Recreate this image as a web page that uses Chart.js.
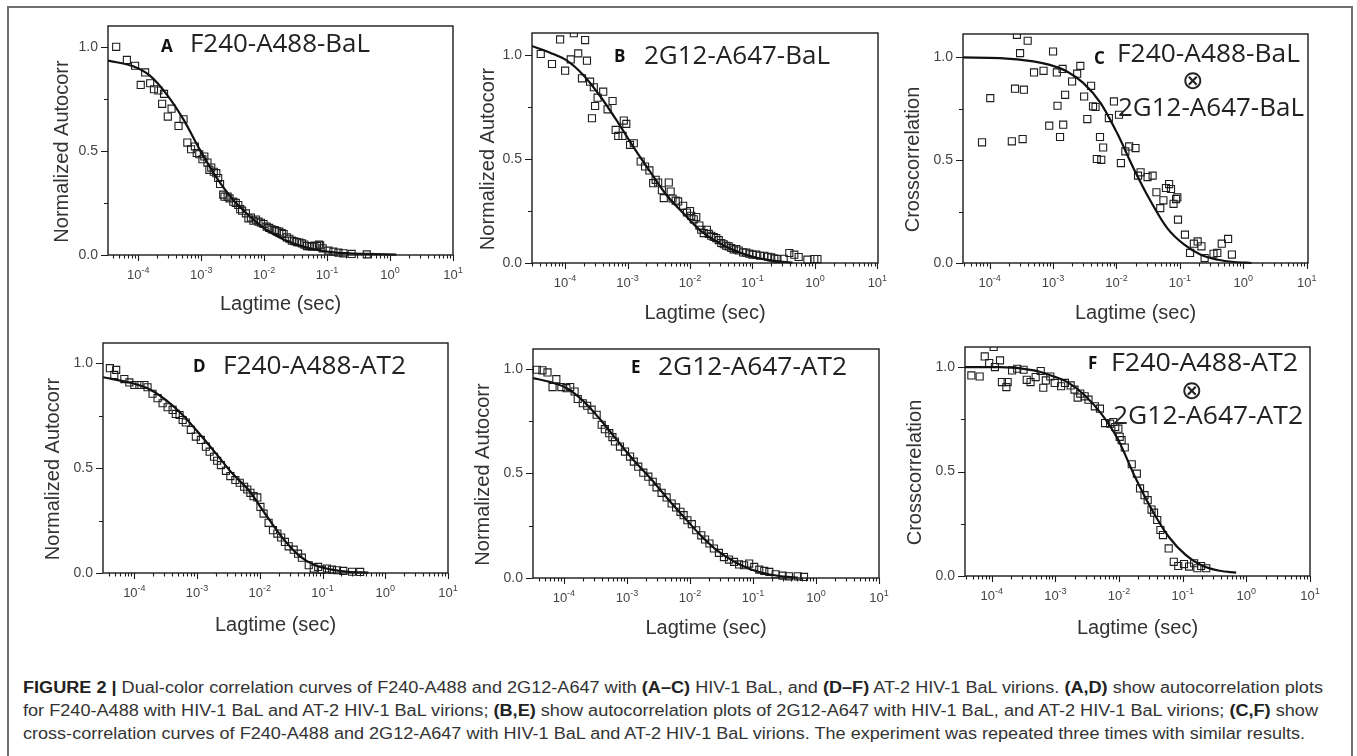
<!DOCTYPE html>
<html>
<head>
<meta charset="utf-8">
<title>Figure 2 - correlation curves</title>
<script src="https://cdn.jsdelivr.net/npm/chart.js@4.4.1/dist/chart.umd.min.js"></script>
<style>
    body { margin: 0; background: #fff; }
    #page { position: relative; width: 1357px; height: 756px; overflow: hidden; font-family: "Liberation Sans", Arial, sans-serif; }
    #border { position: absolute; left: 7px; top: 6px; width: 1346px; height: 770px; border: 2px solid #707070; box-sizing: border-box; }
    canvas { position: absolute; }
    .cap { position: absolute; left: 23px; white-space: nowrap; font-size: 16px; line-height: 20px; color: #333; transform-origin: 0 50%; }
    .cap b { color: #222; }
</style>
</head>
<body>
<div id="page">
    <div id="border"></div>
    <canvas id="cA" width="470" height="320" style="left:0px;top:10px"></canvas>
    <canvas id="cB" width="430" height="320" style="left:470px;top:10px"></canvas>
    <canvas id="cC" width="457" height="320" style="left:900px;top:10px"></canvas>
    <canvas id="cD" width="470" height="320" style="left:0px;top:330px"></canvas>
    <canvas id="cE" width="430" height="320" style="left:470px;top:330px"></canvas>
    <canvas id="cF" width="457" height="320" style="left:900px;top:330px"></canvas>

    <div class="cap" data-w="1300" style="top:678px"><b>FIGURE 2 |</b> Dual-color correlation curves of F240-A488 and 2G12-A647 with <b>(A–C)</b> HIV-1 BaL, and <b>(D–F)</b> AT-2 HIV-1 BaL virions. <b>(A,D)</b> show autocorrelation plots</div>
    <div class="cap" data-w="1295" style="top:701px">for F240-A488 with HIV-1 BaL and AT-2 HIV-1 BaL virions; <b>(B,E)</b> show autocorrelation plots of 2G12-A647 with HIV-1 BaL, and AT-2 HIV-1 BaL virions; <b>(C,F)</b> show</div>
    <div class="cap" data-w="1282" style="top:724px">cross-correlation curves of F240-A488 and 2G12-A647 with HIV-1 BaL and AT-2 HIV-1 BaL virions. The experiment was repeated three times with similar results.</div>
</div>

<script>
// [log10 lagtime (s), correlation]
let aPts = [[-4.35,1.0],[-4.18,0.937],[-4.05,0.909],[-3.96,0.817],[-3.89,0.877],[-3.81,0.825],[-3.75,0.796],[-3.68,0.79],[-3.62,0.726],[-3.59,0.774],
    [-3.53,0.665],[-3.47,0.703],[-3.36,0.62],[-3.28,0.652],[-3.22,0.54],[-3.16,0.508],[-3.10,0.521],[-3.07,0.49],[-3.03,0.484],[-2.98,0.46],
    [-2.95,0.473],[-2.90,0.444],[-2.87,0.409],[-2.84,0.42],[-2.80,0.40],[-2.76,0.393],[-2.73,0.37],[-2.70,0.341],[-2.65,0.29],[-2.63,0.28],
    [-2.58,0.28],[-2.55,0.272],[-2.49,0.256],[-2.45,0.25],[-2.41,0.24],[-2.38,0.22],[-2.35,0.213],[-2.29,0.2],[-2.25,0.176],[-2.21,0.18],
    [-2.17,0.165],[-2.13,0.17],[-2.09,0.16],[-2.05,0.155],[-2.01,0.149],[-1.96,0.136],[-1.92,0.13],[-1.88,0.123],[-1.83,0.12],[-1.80,0.115],
    [-1.76,0.112],[-1.72,0.105],[-1.69,0.101],[-1.64,0.085],[-1.60,0.078],[-1.56,0.069],[-1.52,0.066],[-1.48,0.062],[-1.44,0.06],[-1.40,0.056],
    [-1.36,0.05],[-1.32,0.043],[-1.28,0.042],[-1.24,0.04],[-1.20,0.045],[-1.16,0.043],[-1.13,0.05],[-1.11,0.046],[-1.07,0.032],[-0.98,0.021],
    [-0.90,0.016],[-0.82,0.011],[-0.74,0.008],[-0.61,0.005],[-0.37,0.003]];
let aFit = [[-4.48,0.934],[-4.07,0.905],[-3.81,0.86],[-3.545,0.77],[-3.28,0.65],[-3.02,0.505],[-2.75,0.369],[-2.49,0.264],[-2.22,0.184],
    [-1.96,0.12],[-1.69,0.075],[-1.43,0.045],[-1.16,0.024],[-0.90,0.013],[-0.64,0.008],[-0.37,0.005],[0.10,0.002]];

let bPts = [[-4.39,1.005],[-4.21,0.957],[-4.08,1.075],[-4.0,0.925],[-3.91,0.979],[-3.86,1.105],[-3.79,1.008],[-3.73,0.888],[-3.68,1.072],[-3.65,0.973],
    [-3.60,0.872],[-3.57,0.696],[-3.54,0.845],[-3.52,0.755],[-3.48,0.795],[-3.39,0.824],[-3.32,0.739],[-3.24,0.779],[-3.19,0.64],[-3.15,0.611],
    [-3.08,0.611],[-3.06,0.685],[-3.02,0.669],[-2.96,0.568],[-2.90,0.576],[-2.79,0.488],[-2.72,0.464],[-2.65,0.445],[-2.59,0.384],[-2.55,0.40],
    [-2.51,0.387],[-2.45,0.35],[-2.42,0.312],[-2.34,0.387],[-2.31,0.344],[-2.28,0.31],[-2.23,0.30],[-2.19,0.296],[-2.11,0.275],[-2.05,0.243],
    [-2.0,0.25],[-1.98,0.227],[-1.94,0.21],[-1.90,0.221],[-1.85,0.18],[-1.82,0.16],[-1.78,0.144],[-1.73,0.16],[-1.70,0.14],[-1.66,0.131],
    [-1.62,0.125],[-1.58,0.12],[-1.54,0.11],[-1.50,0.096],[-1.46,0.09],[-1.42,0.083],[-1.38,0.08],[-1.34,0.072],[-1.30,0.065],[-1.26,0.067],
    [-1.22,0.06],[-1.15,0.051],[-1.10,0.05],[-1.05,0.045],[-1.0,0.04],[-0.94,0.04],[-0.88,0.035],[-0.81,0.035],[-0.75,0.03],[-0.70,0.027],
    [-0.65,0.022],[-0.60,0.019],[-0.50,0.02],[-0.41,0.048],[-0.33,0.04],[-0.26,0.029],[-0.12,0.016],[-0.01,0.019],[0.04,0.019]];
let bFit = [[-4.53,1.043],[-4.24,1.011],[-3.97,0.973],[-3.71,0.904],[-3.44,0.803],[-3.18,0.688],[-2.91,0.56],[-2.64,0.44],[-2.38,0.328],
    [-2.11,0.24],[-1.85,0.16],[-1.58,0.104],[-1.31,0.064],[-1.05,0.035],[-0.78,0.016],[-0.52,0.006],[-0.36,0.002]];

let cPts = [[-4.12,0.587],[-3.99,0.802],[-3.65,0.592],[-3.60,0.848],[-3.57,1.11],[-3.52,1.021],[-3.48,0.603],[-3.46,0.843],[-3.40,1.081],[-3.30,0.927],
    [-3.15,0.935],[-3.06,0.668],[-3.0,1.029],[-2.94,0.927],[-2.93,0.765],[-2.89,0.613],[-2.85,0.944],[-2.84,0.673],[-2.81,0.818],[-2.70,0.883],
    [-2.62,0.921],[-2.57,0.959],[-2.51,0.81],[-2.46,0.70],[-2.40,0.862],[-2.37,0.762],[-2.33,0.759],[-2.31,0.506],[-2.26,0.613],[-2.24,0.502],
    [-2.21,0.562],[-2.12,0.705],[-2.04,0.786],[-1.96,0.721],[-1.93,0.486],[-1.86,0.543],[-1.80,0.567],[-1.70,0.559],[-1.66,0.425],[-1.62,0.441],
    [-1.51,0.418],[-1.43,0.425],[-1.37,0.344],[-1.31,0.267],[-1.26,0.305],[-1.22,0.365],[-1.17,0.384],[-1.14,0.36],[-1.10,0.288],[-1.06,0.311],
    [-1.04,0.319],[-1.03,0.211],[-0.92,0.138],[-0.84,0.049],[-0.78,0.094],[-0.72,0.105],[-0.66,0.081],[-0.61,0.024],[-0.47,0.045],[-0.41,0.049],
    [-0.34,0.094],[-0.24,0.117],[-0.18,0.041]];
let cFit = [[-4.42,1.0],[-3.84,0.997],[-3.31,0.981],[-3.05,0.964],[-2.78,0.932],[-2.52,0.875],[-2.25,0.778],[-1.99,0.632],[-1.72,0.454],
    [-1.46,0.30],[-1.20,0.17],[-0.93,0.089],[-0.67,0.04],[-0.40,0.016],[-0.14,0.005],[0.13,0.0]];

let dPts = [[-4.39,0.976],[-4.32,0.944],[-4.29,0.968],[-4.16,0.924],[-4.08,0.908],[-4.0,0.896],[-3.92,0.896],[-3.84,0.896],[-3.79,0.885],[-3.71,0.854],
    [-3.63,0.833],[-3.55,0.809],[-3.47,0.79],[-3.39,0.777],[-3.34,0.758],[-3.28,0.753],[-3.23,0.729],[-3.18,0.717],[-3.10,0.682],[-3.02,0.65],
    [-2.94,0.634],[-2.86,0.602],[-2.80,0.578],[-2.73,0.554],[-2.68,0.535],[-2.62,0.514],[-2.54,0.487],[-2.47,0.462],[-2.39,0.443],[-2.32,0.43],
    [-2.25,0.411],[-2.20,0.398],[-2.15,0.382],[-2.10,0.366],[-2.04,0.36],[-1.99,0.315],[-1.94,0.283],[-1.86,0.239],[-1.79,0.204],[-1.72,0.188],
    [-1.66,0.169],[-1.60,0.148],[-1.54,0.127],[-1.46,0.111],[-1.39,0.092],[-1.33,0.073],[-1.22,0.037],[-1.14,0.021],[-1.07,0.029],[-1.01,0.016],
    [-0.93,0.021],[-0.85,0.016],[-0.77,0.013],[-0.67,0.01],[-0.53,0.006],[-0.40,0.005]];
let dFit = [[-4.50,0.933],[-4.03,0.904],[-3.76,0.876],[-3.50,0.825],[-3.23,0.753],[-2.97,0.666],[-2.70,0.57],[-2.44,0.475],[-2.17,0.392],
    [-1.91,0.28],[-1.65,0.172],[-1.38,0.084],[-1.12,0.037],[-0.85,0.016],[-0.59,0.006],[-0.27,0.002]];

let ePts = [[-4.43,0.995],[-4.34,0.992],[-4.26,0.982],[-4.18,0.912],[-4.12,0.95],[-4.04,0.912],[-3.96,0.907],[-3.90,0.912],[-3.83,0.891],[-3.78,0.855],
    [-3.70,0.835],[-3.63,0.823],[-3.56,0.804],[-3.48,0.78],[-3.40,0.732],[-3.35,0.711],[-3.28,0.692],[-3.23,0.673],[-3.19,0.652],[-3.11,0.628],
    [-3.03,0.604],[-2.95,0.58],[-2.89,0.556],[-2.82,0.532],[-2.74,0.503],[-2.66,0.484],[-2.59,0.46],[-2.53,0.433],[-2.45,0.407],[-2.37,0.385],
    [-2.29,0.356],[-2.22,0.337],[-2.15,0.316],[-2.10,0.30],[-2.04,0.276],[-1.97,0.257],[-1.90,0.228],[-1.82,0.204],[-1.76,0.184],[-1.69,0.165],
    [-1.62,0.141],[-1.54,0.12],[-1.46,0.10],[-1.38,0.088],[-1.30,0.077],[-1.22,0.065],[-1.14,0.061],[-1.06,0.069],[-0.98,0.053],[-0.90,0.04],
    [-0.82,0.034],[-0.74,0.029],[-0.64,0.018],[-0.53,0.011],[-0.43,0.008],[-0.29,0.008],[-0.19,0.005]];
let eFit = [[-4.49,0.955],[-4.23,0.937],[-3.96,0.908],[-3.70,0.848],[-3.43,0.76],[-3.16,0.66],[-2.90,0.565],[-2.63,0.478],[-2.37,0.385],
    [-2.10,0.293],[-1.84,0.207],[-1.57,0.132],[-1.30,0.079],[-1.04,0.042],[-0.77,0.019],[-0.51,0.007],[-0.29,0.002]];

let fPts = [[-4.32,0.96],[-4.19,0.955],[-4.11,1.051],[-4.04,1.019],[-3.97,1.096],[-3.95,1.0],[-3.87,1.032],[-3.84,0.928],[-3.77,0.904],[-3.75,0.928],
    [-3.68,0.984],[-3.60,0.992],[-3.50,0.987],[-3.45,0.939],[-3.39,0.928],[-3.31,0.952],[-3.23,0.981],[-3.19,0.901],[-3.15,0.936],[-3.08,0.955],
    [-3.01,0.924],[-2.91,0.908],[-2.85,0.924],[-2.76,0.912],[-2.70,0.892],[-2.65,0.854],[-2.61,0.873],[-2.54,0.86],[-2.48,0.844],[-2.38,0.812],
    [-2.30,0.801],[-2.22,0.732],[-2.14,0.729],[-2.09,0.737],[-2.06,0.713],[-2.01,0.705],[-1.99,0.666],[-1.96,0.65],[-1.91,0.615],[-1.80,0.535],
    [-1.72,0.49],[-1.67,0.419],[-1.60,0.387],[-1.55,0.363],[-1.49,0.318],[-1.45,0.303],[-1.40,0.268],[-1.35,0.22],[-1.31,0.196],[-1.22,0.132],
    [-1.14,0.068],[-1.07,0.048],[-0.98,0.057],[-0.90,0.045],[-0.82,0.061],[-0.77,0.037],[-0.71,0.048],[-0.63,0.037]];
let fFit = [[-4.42,1.0],[-3.87,1.0],[-3.34,0.984],[-3.07,0.96],[-2.81,0.928],[-2.54,0.865],[-2.28,0.777],[-2.01,0.65],[-1.75,0.475],
    [-1.48,0.315],[-1.22,0.188],[-0.95,0.10],[-0.69,0.049],[-0.42,0.025],[-0.16,0.016]];

// axis ticks
let decades = [-4, -3, -2, -1, 0, 1];
let yMajor = [0, 0.5, 1.0];
let yMinor = [0.25, 0.75];

let autoTitle = 'Normalized Autocorr';
let crossTitle = 'Crosscorrelation';

// page layout of the six panels (box = canvas, frame = plot area, all in page px)
let panels = [
    { id: 'cA', box: [0, 10, 470, 320], frame: [108, 26, 453, 255], xMin: -4.48, xMax: 1, yMax: 1.10, pts: aPts, fit: aFit,
      yTitle: autoTitle, yTitleX: 62, xTitleY: 304, letter: ['A', 161, 52],
      names: [['F240-A488-BaL', 190, 370, 52]], circ: null },
    { id: 'cB', box: [470, 10, 430, 320], frame: [532, 33, 878, 263], xMin: -4.53, xMax: 1.01, yMax: 1.106, pts: bPts, fit: bFit,
      yTitle: autoTitle, yTitleX: 488, xTitleY: 313, letter: ['B', 614, 62],
      names: [['2G12-A647-BaL', 644, 830, 64]], circ: null },
    { id: 'cC', box: [900, 10, 457, 320], frame: [963, 34, 1308, 263], xMin: -4.42, xMax: 1.02, yMax: 1.114, pts: cPts, fit: cFit,
      yTitle: crossTitle, yTitleX: 913, xTitleY: 313, letter: ['C', 1094, 64],
      names: [['F240-A488-BaL', 1117, 1300, 62], ['2G12-A647-BaL', 1118, 1304, 116]], circ: [1193, 82] },
    { id: 'cD', box: [0, 330, 470, 320], frame: [103, 343, 448, 573], xMin: -4.50, xMax: 1, yMax: 1.096, pts: dPts, fit: dFit,
      yTitle: autoTitle, yTitleX: 53, xTitleY: 625, letter: ['D', 193, 372],
      names: [['F240-A488-AT2', 223, 406, 374]], circ: null },
    { id: 'cE', box: [470, 330, 430, 320], frame: [533, 349, 879, 578], xMin: -4.49, xMax: 1, yMax: 1.094, pts: ePts, fit: eFit,
      yTitle: autoTitle, yTitleX: 483, xTitleY: 628, letter: ['E', 631, 373],
      names: [['2G12-A647-AT2', 658, 847, 375]], circ: null },
    { id: 'cF', box: [900, 330, 457, 320], frame: [965, 347, 1310, 576], xMin: -4.42, xMax: 1, yMax: 1.096, pts: fPts, fit: fFit,
      yTitle: crossTitle, yTitleX: 915, xTitleY: 628, letter: ['F', 1088, 369],
      names: [['F240-A488-AT2', 1111, 1298, 371], ['2G12-A647-AT2', 1113, 1303, 424]], circ: [1192, 392] }
];

let sans = '"Liberation Sans", Arial, sans-serif';

function fitText(ctx, s, left, right, base) {
    let w = ctx.measureText(s).width;
    ctx.save();
    ctx.translate(left, base);
    ctx.scale((right - left) / w, 1);
    ctx.fillText(s, 0, 0);
    ctx.restore();
}

// frame, ticks, labels and panel captions, placed with the chart's scales
const axesDeco = {
    id: 'axesDeco',
    afterDraw(chart) {
        let p = chart.options.plugins.axesDeco.panel;
        let ctx = chart.ctx, xs = chart.scales.x, ys = chart.scales.y, a = chart.chartArea;
        let ox = p.box[0], oy = p.box[1];
        ctx.save();

        ctx.strokeStyle = '#1a1a1a';
        ctx.lineWidth = 1.4;
        ctx.strokeRect(a.left, a.top, a.right - a.left, a.bottom - a.top);

        ctx.lineWidth = 1.1;
        ctx.beginPath();
        for (let d = Math.floor(Math.log10(xs.min)); d <= 1; d++) {
            for (let m = 1; m < 10; m++) {
                let v = m * Math.pow(10, d);
                if (v < xs.min * 0.999 || v > xs.max * 1.001) continue;
                let px = Math.round(xs.getPixelForValue(v)) + 0.5;
                ctx.moveTo(px, a.bottom);
                ctx.lineTo(px, a.bottom + (m === 1 ? 6 : 3.5));
            }
        }
        yMajor.forEach(v => {
            let py = Math.round(ys.getPixelForValue(v)) + 0.5;
            ctx.moveTo(a.left, py);
            ctx.lineTo(a.left - 7, py);
        });
        yMinor.forEach(v => {
            let py = Math.round(ys.getPixelForValue(v)) + 0.5;
            ctx.moveTo(a.left, py);
            ctx.lineTo(a.left - 4, py);
        });
        ctx.stroke();

        // tick labels
        ctx.fillStyle = '#444';
        ctx.font = '14px ' + sans;
        ctx.textAlign = 'right';
        ctx.textBaseline = 'middle';
        yMajor.forEach(v => ctx.fillText(v.toFixed(1), a.left - 10, ys.getPixelForValue(v)));

        ctx.textAlign = 'left';
        ctx.textBaseline = 'alphabetic';
        decades.forEach(d => {
            let px = xs.getPixelForValue(Math.pow(10, d));
            ctx.font = '13px ' + sans;
            let w1 = ctx.measureText('10').width;
            ctx.font = '9px ' + sans;
            let w2 = ctx.measureText(String(d)).width;
            let x0 = px - (w1 + w2) / 2;
            let base = a.bottom + 24;
            ctx.font = '13px ' + sans;
            ctx.fillText('10', x0, base);
            ctx.font = '9px ' + sans;
            ctx.fillText(String(d), x0 + w1, base - 6);
        });

        // axis titles
        ctx.fillStyle = '#333';
        ctx.font = '20px ' + sans;
        ctx.textAlign = 'center';
        ctx.textBaseline = 'middle';
        ctx.fillText('Lagtime (sec)', (a.left + a.right) / 2, p.xTitleY - oy);
        ctx.save();
        ctx.translate(p.yTitleX - ox, (a.top + a.bottom) / 2 + 11);
        ctx.rotate(-Math.PI / 2);
        ctx.fillText(p.yTitle, 0, 0);
        ctx.restore();

        // panel letter and sample names
        ctx.textAlign = 'left';
        ctx.textBaseline = 'alphabetic';
        ctx.fillStyle = '#111';
        ctx.font = 'bold 17px "Open Sans", sans-serif';
        ctx.fillText(p.letter[0], p.letter[1] - ox, p.letter[2] - oy);
        ctx.fillStyle = '#222';
        ctx.font = '25px "Open Sans", sans-serif';
        p.names.forEach(n => fitText(ctx, n[0], n[1] - ox, n[2] - ox, n[3] - oy));
        if (p.circ) {
            ctx.font = '26px "DejaVu Sans", sans-serif';
            ctx.textAlign = 'center';
            ctx.textBaseline = 'middle';
            ctx.fillText('\u2297', p.circ[0] - ox, p.circ[1] - oy);
        }
        ctx.restore();
    }
};

panels.forEach(p => {
    let bx = p.box[0], by = p.box[1], bw = p.box[2], bh = p.box[3];
    let f = p.frame;
    new Chart(document.getElementById(p.id), {
        type: 'scatter',
        data: {
            datasets: [
                {
                    data: p.fit.map(q => ({ x: Math.pow(10, q[0]), y: q[1] })),
                    showLine: true,
                    borderColor: '#111',
                    borderWidth: 2.2,
                    pointRadius: 0,
                    cubicInterpolationMode: 'monotone',
                    clip: { left: 0, top: 0, right: 0, bottom: 2 },
                    order: 0
                },
                {
                    data: p.pts.map(q => ({ x: Math.pow(10, q[0]), y: q[1] })),
                    pointStyle: 'rect',
                    pointRadius: 5,
                    pointBorderWidth: 1.1,
                    pointBorderColor: '#1e1e1e',
                    pointBackgroundColor: 'rgba(255,255,255,0)',
                    clip: { left: 6, top: 0, right: 6, bottom: 6 },
                    order: 1
                }
            ]
        },
        options: {
            responsive: false,
            animation: false,
            events: [],
            layout: { padding: { left: f[0] - bx, top: f[1] - by, right: bx + bw - f[2], bottom: by + bh - f[3] } },
            scales: {
                x: { type: 'logarithmic', display: false, min: Math.pow(10, p.xMin), max: Math.pow(10, p.xMax) },
                y: { type: 'linear', display: false, min: 0, max: p.yMax }
            },
            plugins: {
                legend: { display: false },
                tooltip: { enabled: false },
                axesDeco: { panel: p }
            }
        },
        plugins: [axesDeco]
    });
});

// squeeze each caption line to the width it has in the figure
document.querySelectorAll('.cap').forEach(el => {
    let w = el.getBoundingClientRect().width;
    el.style.transform = 'scaleX(' + (el.dataset.w / w).toFixed(4) + ')';
});
</script>
</body>
</html>
